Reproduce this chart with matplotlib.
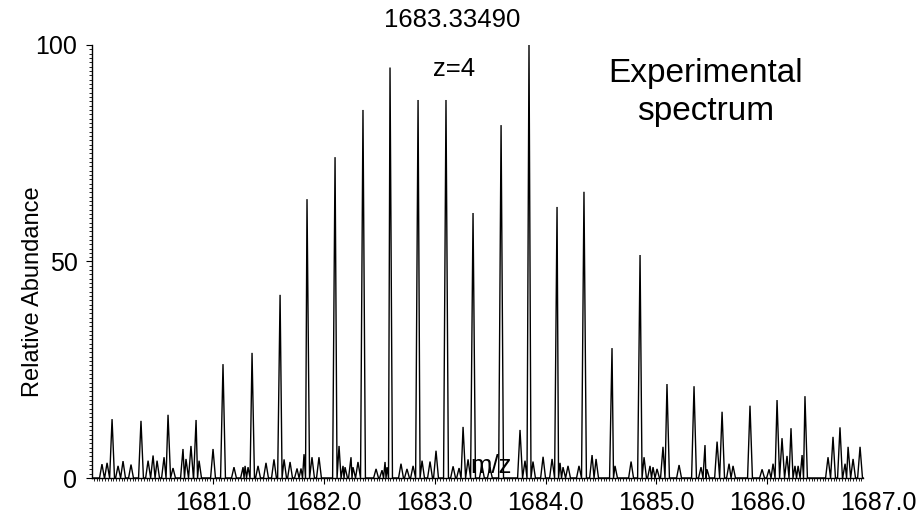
import numpy as np
import matplotlib
matplotlib.use("Agg")
import matplotlib.pyplot as plt
from matplotlib.ticker import FixedLocator, MultipleLocator

plt.rcParams['font.family'] = ['Liberation Sans', 'DejaVu Sans']

# Isotope cluster peaks (m/z, relative abundance)
iso_mz = [1680.089, 1680.350, 1680.594, 1680.847, 1681.090, 1681.352, 1681.605,
          1681.848, 1682.101, 1682.353, 1682.597, 1682.850, 1683.102, 1683.346,
          1683.599, 1683.851, 1684.104, 1684.347, 1684.600, 1684.853, 1685.096,
          1685.340, 1685.593, 1685.845, 1686.089, 1686.341]
iso_int = [13.6, 13.2, 14.6, 13.4, 26.3, 28.9, 42.3, 64.4, 74.1, 85.0, 94.8,
           87.3, 87.3, 61.2, 81.5, 100.0, 62.6, 66.1, 30.0, 51.5, 21.7, 21.2,
           15.3, 16.7, 18.0, 18.9]

# Small noise peaks
noise_mz = [1679.998, 1680.044, 1680.143, 1680.188, 1680.260, 1680.414, 1680.459,
            1680.495, 1680.558, 1680.639, 1680.729, 1680.756, 1680.801, 1680.874,
            1681.000, 1681.189, 1681.271, 1681.289, 1681.316, 1681.406, 1681.478,
            1681.550, 1681.641, 1681.695, 1681.758, 1681.794, 1681.821, 1681.893,
            1681.956, 1682.137, 1682.173, 1682.191, 1682.245, 1682.263, 1682.308,
            1682.471, 1682.525, 1682.552, 1682.570, 1682.696, 1682.750, 1682.805,
            1682.886, 1682.958, 1683.012, 1683.166, 1683.220, 1683.256, 1683.301,
            1683.426, 1683.498, 1683.770, 1683.815, 1683.887, 1683.978, 1684.059,
            1684.131, 1684.158, 1684.203, 1684.302, 1684.420, 1684.456, 1684.627,
            1684.772, 1684.889, 1684.943, 1684.970, 1685.006, 1685.060, 1685.205,
            1685.403, 1685.439, 1685.457, 1685.548, 1685.656, 1685.692, 1685.954,
            1686.017, 1686.053, 1686.134, 1686.179, 1686.215, 1686.251, 1686.279,
            1686.315, 1686.549, 1686.594, 1686.657, 1686.703, 1686.730, 1686.775,
            1686.838]
noise_int = [3.2, 3.5, 2.8, 3.9, 3.1, 4.0, 5.2,
             4.0, 4.8, 2.3, 6.7, 4.4, 7.4, 4.0,
             6.7, 2.5, 2.5, 2.8, 2.5, 2.8, 3.5,
             4.3, 4.3, 3.7, 2.2, 2.2, 5.5, 4.8,
             4.8, 7.4, 2.8, 2.5, 4.8, 2.5, 3.7,
             2.1, 1.8, 3.7, 2.5, 3.3, 2.1, 2.8,
             4.0, 3.8, 6.3, 2.7, 2.3, 11.8, 4.3,
             3.0, 2.5, 11.1, 4.0, 3.8, 4.9, 4.4,
             3.5, 2.5, 2.8, 2.8, 5.3, 4.4, 2.8,
             3.8, 4.8, 2.8, 2.5, 2.1, 7.2, 3.0,
             2.5, 7.6, 2.0, 8.4, 3.3, 2.8, 2.0,
             2.0, 3.3, 9.2, 5.1, 11.5, 2.8, 2.8,
             5.3, 4.8, 9.5, 11.7, 3.3, 7.2, 4.4,
             7.2]

xtick_vals = [1681.0, 1682.0, 1683.0, 1684.0, 1685.0, 1686.0, 1687.0]
xtick_labels = ['1681.0', '1682.0', '1683.0', '1684.0', '1685.0', '1686.0', '1687.0']
ytick_vals = [0, 50, 100]
ytick_labels = ['0', '50', '100']

x_lo, x_axis_end, x_hi = 1679.908, 1686.865, 1687.018

# Build profile polyline from peak list
mz = np.array(iso_mz + noise_mz)
inten = np.array(iso_int + noise_int)
order = np.argsort(mz)
mz, inten = mz[order], inten[order]
hw = 0.022
px, py = [x_lo], [0.0]
for i in range(len(mz)):
    if i == 0:
        px += [mz[i] - hw]; py += [0.0]
    else:
        gap = mz[i] - mz[i - 1]
        if gap > 2 * hw:
            px += [mz[i - 1] + hw, mz[i] - hw]; py += [0.0, 0.0]
        else:
            px += [0.5 * (mz[i] + mz[i - 1])]; py += [0.0]
    px.append(mz[i]); py.append(inten[i])
px += [mz[-1] + hw, x_axis_end]; py += [0.0, 0.0]

W, H = 920, 517
fig = plt.figure(figsize=(W / 100, H / 100), dpi=100)
ax = fig.add_axes([92 / W, 1 - 478 / H, (880 - 92) / W, (478 - 45) / H])
ax.plot(px, py, color='black', lw=1.0, solid_joinstyle='miter')

ax.set_xlim(x_lo, x_hi)
ax.set_ylim(0, 100)
for s in ['top', 'right']:
    ax.spines[s].set_visible(False)
ax.spines['bottom'].set_bounds(x_lo, x_axis_end)
ax.spines['bottom'].set_linewidth(1.0)
ax.spines['left'].set_linewidth(1.0)

ax.set_xticks(xtick_vals, xtick_labels)
ax.xaxis.set_minor_locator(FixedLocator(np.arange(1679.925, x_axis_end, 0.025)))
ax.set_yticks(ytick_vals, ytick_labels)
ax.yaxis.set_minor_locator(MultipleLocator(1))
ax.tick_params(axis='both', which='major', direction='out', length=4.5, width=0.8,
               labelsize=18, colors='black')
ax.tick_params(axis='both', which='minor', direction='out', length=2.5, width=0.6)
ax.tick_params(axis='x', which='major', pad=5)
ax.tick_params(axis='y', which='major', pad=6)
ax.xaxis.get_major_ticks()[-1].tick1line.set_visible(False)

fig.text(33 / W, 1 - 292 / H, 'Relative Abundance', rotation=90, ha='center',
         va='center', fontsize=17)

ax.text(1683.157, 105.8, '1683.33490', ha='center', va='center', fontsize=18.5,
        clip_on=False)
ax.text(1683.175, 94.5, 'z=4', ha='center', va='center', fontsize=18.5)
ax.text(1685.448, 89.0, 'Experimental\nspectrum', ha='center', va='center',
        fontsize=24, linespacing=1.3)
ax.text(1683.508, 2.8, 'm/z', ha='center', va='center', fontsize=18.5)

fig.savefig('out.png', dpi=100)
